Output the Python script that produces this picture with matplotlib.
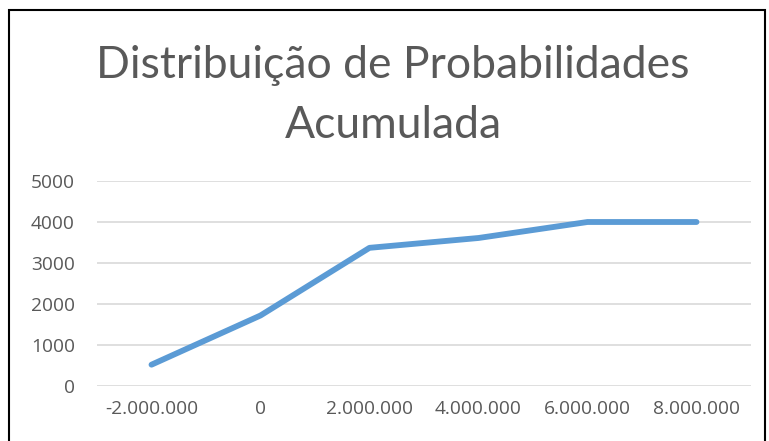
import matplotlib
matplotlib.use('Agg')
import matplotlib.pyplot as plt
from matplotlib.patches import Rectangle

# data
categories = ['-2.000.000', '0', '2.000.000', '4.000.000', '6.000.000', '8.000.000']
values = [520, 1720, 3370, 3610, 4000, 4000]
yticks = [0, 1000, 2000, 3000, 4000, 5000]

plt.rcParams['font.family'] = ['Lato', 'DejaVu Sans']
grey = '#595959'

fig = plt.figure(figsize=(7.69, 4.41), dpi=100)
ax = fig.add_axes([97/769, 1 - 386/441, (751 - 97)/769, (386 - 181)/441])

x = list(range(len(categories)))
ax.plot(x, values, color='#5B9BD5', lw=4.2, solid_capstyle='round', solid_joinstyle='round')

ax.set_xlim(-0.5, len(categories) - 0.5)
ax.set_ylim(0, 5000)
ax.set_yticks(yticks)
ax.set_yticklabels([str(v) for v in yticks])
ax.set_xticks(x)
ax.set_xticklabels(categories)
ax.tick_params(length=0, labelsize=13.8, colors=grey)
for lbl in ax.get_xticklabels() + ax.get_yticklabels():
    lbl.set_family(['Open Sans', 'DejaVu Sans'])
ax.tick_params(axis='y', pad=16)
ax.tick_params(axis='x', pad=10)
ax.grid(axis='y', color='#d9d9d9', lw=1.2)
ax.set_axisbelow(True)
for s in ax.spines.values():
    s.set_visible(False)

fig.text(393/769, 1 - 66/441, 'Distribuição de Probabilidades', ha='center', va='center',
         fontsize=32, color=grey)
fig.text(393/769, 1 - 125/441, 'Acumulada', ha='center', va='center',
         fontsize=32, color=grey)

# chart frame
fig.patches.append(Rectangle((8.5/769, -0.05), (765 - 8.5)/769, 1.05 - 10.5/441,
                             transform=fig.transFigure, fill=False, ec='black', lw=1.5))

fig.savefig('out.png', dpi=100)
